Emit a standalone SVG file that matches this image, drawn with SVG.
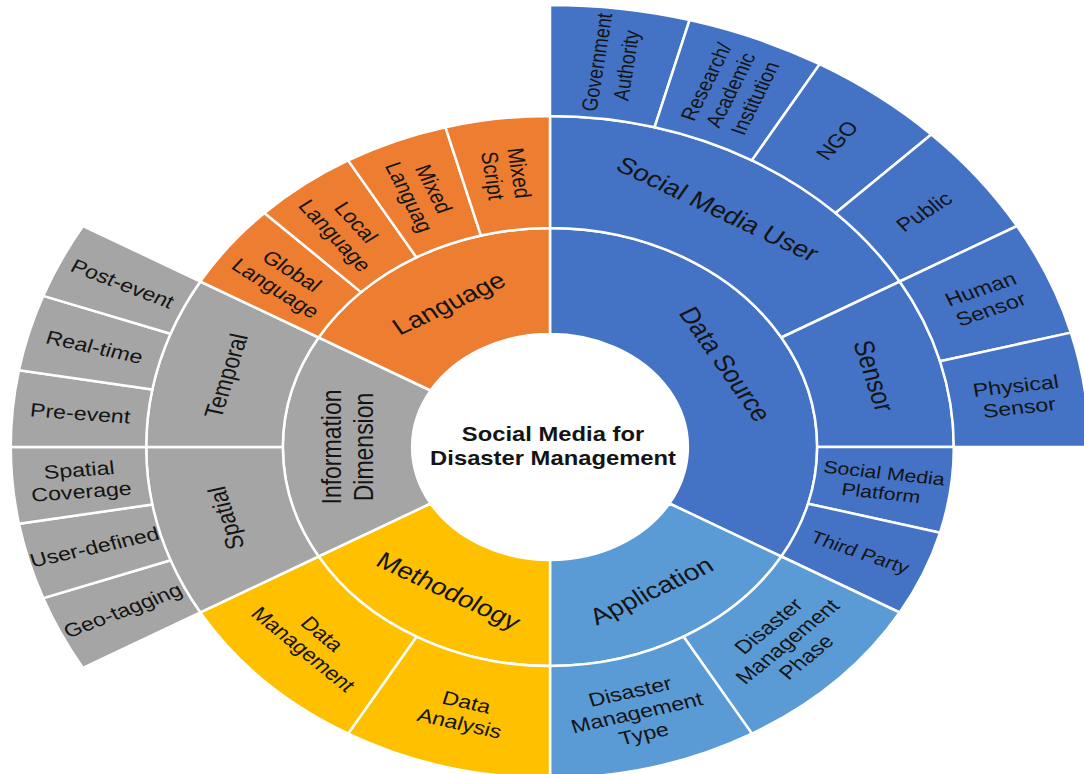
<svg xmlns="http://www.w3.org/2000/svg" width="1084" height="774" viewBox="0 0 1084 774">
  <style>
    .seg{stroke:#fff;stroke-width:2.5;vector-effect:non-scaling-stroke;stroke-linejoin:miter}
    .ds{fill:#4472C4}.ap{fill:#5B9BD5}.me{fill:#FFC000}.id{fill:#A5A5A5}.la{fill:#ED7D31}
    text{font-family:"Liberation Sans",Arial,Helvetica,sans-serif;fill:#141414;text-anchor:middle}
    .t1{font-size:23px}
    .t2{font-size:21px}
    .t3{font-size:19px}
    .t4{font-size:18px}
    .t5{font-size:17.5px}
    .title{font-size:19.5px;font-weight:bold}
  </style>
  <rect width="1084" height="774" fill="#fff"/>

  <!-- sunburst drawn in polar space; angles clockwise from 12 o'clock, chart stretched horizontally -->
  <g id="sunburst" transform="translate(550 447) scale(1.22 1)">

    <!-- ring 1: top-level categories -->
    <g id="data-source">
      <path class="seg ds" d="M0,-113 L0,-219 A219,219 0 0 1 189.66,109.5 L97.86,56.5 A113,113 0 0 0 0,-113Z"/>
      <text class="t1" transform="translate(143.76 -83) rotate(60)"><tspan x="0" dy="0.35em">Data Source</tspan></text>
    </g>
    <g id="application">
      <path class="seg ap" d="M97.86,56.5 L189.66,109.5 A219,219 0 0 1 0,219 L0,113 A113,113 0 0 0 97.86,56.5Z"/>
      <text class="t1" transform="translate(83 143.76) rotate(-30)"><tspan x="0" dy="0.35em">Application</tspan></text>
    </g>
    <g id="methodology">
      <path class="seg me" d="M0,113 L0,219 A219,219 0 0 1 -189.66,109.5 L-97.86,56.5 A113,113 0 0 0 0,113Z"/>
      <text class="t1" transform="translate(-83 143.76) rotate(30)"><tspan x="0" dy="0.35em">Methodology</tspan></text>
    </g>
    <g id="information-dimension">
      <path class="seg id" d="M-97.86,56.5 L-189.66,109.5 A219,219 0 0 1 -189.66,-109.5 L-97.86,-56.5 A113,113 0 0 0 -97.86,56.5Z"/>
      <text class="t1" transform="translate(-166 0) rotate(-90)"><tspan x="0" dy="-0.225em">Information</tspan><tspan x="0" dy="1.15em">Dimension</tspan></text>
    </g>
    <g id="language">
      <path class="seg la" d="M-97.86,-56.5 L-189.66,-109.5 A219,219 0 0 1 0,-219 L0,-113 A113,113 0 0 0 -97.86,-56.5Z"/>
      <text class="t1" transform="translate(-83 -143.76) rotate(-30)"><tspan x="0" dy="0.35em">Language</tspan></text>
    </g>

    <!-- ring 2 -->
    <g id="social-media-user">
      <path class="seg ds" d="M0,-219 L0,-331 A331,331 0 0 1 286.65,-165.5 L189.66,-109.5 A219,219 0 0 0 0,-219Z"/>
      <text class="t1" transform="translate(137.5 -238.16) rotate(30)"><tspan x="0" dy="0.35em">Social Media User</tspan></text>
    </g>
    <g id="sensor">
      <path class="seg ds" d="M189.66,-109.5 L286.65,-165.5 A331,331 0 0 1 331,0 L219,0 A219,219 0 0 0 189.66,-109.5Z"/>
      <text class="t1" transform="translate(265.63 -71.17) rotate(75)"><tspan x="0" dy="0.35em">Sensor</tspan></text>
    </g>
    <g id="social-media-platform">
      <path class="seg ds" d="M219,0 L331,0 A331,331 0 0 1 319.72,85.67 L211.54,56.68 A219,219 0 0 0 219,0Z"/>
      <text class="t5" transform="translate(272.65 35.89) rotate(7.5)"><tspan x="0" dy="-0.225em">Social Media</tspan><tspan x="0" dy="1.15em">Platform</tspan></text>
    </g>
    <g id="third-party">
      <path class="seg ds" d="M211.54,56.68 L319.72,85.67 A331,331 0 0 1 286.65,165.5 L189.66,109.5 A219,219 0 0 0 211.54,56.68Z"/>
      <text class="t5" transform="translate(254.07 105.24) rotate(22.5)"><tspan x="0" dy="0.35em">Third Party</tspan></text>
    </g>
    <g id="disaster-management-phase">
      <path class="seg ap" d="M189.66,109.5 L286.65,165.5 A331,331 0 0 1 165.5,286.65 L109.5,189.66 A219,219 0 0 0 189.66,109.5Z"/>
      <text class="t3" transform="translate(194.45 194.45) rotate(-45)"><tspan x="0" dy="-0.8em">Disaster</tspan><tspan x="0" dy="1.15em">Management</tspan><tspan x="0" dy="1.15em">Phase</tspan></text>
    </g>
    <g id="disaster-management-type">
      <path class="seg ap" d="M109.5,189.66 L165.5,286.65 A331,331 0 0 1 0,331 L0,219 A219,219 0 0 0 109.5,189.66Z"/>
      <text class="t3" transform="translate(71.18 265.63) rotate(-15)"><tspan x="0" dy="-0.8em">Disaster</tspan><tspan x="0" dy="1.15em">Management</tspan><tspan x="0" dy="1.15em">Type</tspan></text>
    </g>
    <g id="data-analysis">
      <path class="seg me" d="M0,219 L0,331 A331,331 0 0 1 -165.5,286.65 L-109.5,189.66 A219,219 0 0 0 0,219Z"/>
      <text class="t3" transform="translate(-71.18 265.63) rotate(15)"><tspan x="0" dy="-0.225em">Data</tspan><tspan x="0" dy="1.15em">Analysis</tspan></text>
    </g>
    <g id="data-management">
      <path class="seg me" d="M-109.5,189.66 L-165.5,286.65 A331,331 0 0 1 -286.65,165.5 L-189.66,109.5 A219,219 0 0 0 -109.5,189.66Z"/>
      <text class="t3" transform="translate(-194.45 194.45) rotate(45)"><tspan x="0" dy="-0.225em">Data</tspan><tspan x="0" dy="1.15em">Management</tspan></text>
    </g>
    <g id="spatial">
      <path class="seg id" d="M-189.66,109.5 L-286.65,165.5 A331,331 0 0 1 -331,0 L-219,0 A219,219 0 0 0 -189.66,109.5Z"/>
      <text class="t2" transform="translate(-265.63 71.18) rotate(-105)"><tspan x="0" dy="0.35em">Spatial</tspan></text>
    </g>
    <g id="temporal">
      <path class="seg id" d="M-219,0 L-331,0 A331,331 0 0 1 -286.65,-165.5 L-189.66,-109.5 A219,219 0 0 0 -219,0Z"/>
      <text class="t2" transform="translate(-265.63 -71.18) rotate(-75)"><tspan x="0" dy="0.35em">Temporal</tspan></text>
    </g>
    <g id="global-language">
      <path class="seg la" d="M-189.66,-109.5 L-286.65,-165.5 A331,331 0 0 1 -234.05,-234.05 L-154.86,-154.86 A219,219 0 0 0 -189.66,-109.5Z"/>
      <text class="t3" transform="translate(-218.17 -167.41) rotate(37.5)"><tspan x="0" dy="-0.225em">Global</tspan><tspan x="0" dy="1.15em">Language</tspan></text>
    </g>
    <g id="local-language">
      <path class="seg la" d="M-154.86,-154.86 L-234.05,-234.05 A331,331 0 0 1 -165.5,-286.65 L-109.5,-189.66 A219,219 0 0 0 -154.86,-154.86Z"/>
      <text class="t3" transform="translate(-167.41 -218.17) rotate(52.5)"><tspan x="0" dy="-0.225em">Local</tspan><tspan x="0" dy="1.15em">Language</tspan></text>
    </g>
    <g id="mixed-language">
      <path class="seg la" d="M-109.5,-189.66 L-165.5,-286.65 A331,331 0 0 1 -85.67,-319.72 L-56.68,-211.54 A219,219 0 0 0 -109.5,-189.66Z"/>
      <text class="t3" transform="translate(-105.24 -254.07) rotate(67.5)"><tspan x="0" dy="-0.225em">Mixed</tspan><tspan x="0" dy="1.15em">Languag</tspan></text>
    </g>
    <g id="mixed-script">
      <path class="seg la" d="M-56.68,-211.54 L-85.67,-319.72 A331,331 0 0 1 0,-331 L0,-219 A219,219 0 0 0 -56.68,-211.54Z"/>
      <text class="t3" transform="translate(-35.89 -272.65) rotate(82.5)"><tspan x="0" dy="-0.225em">Mixed</tspan><tspan x="0" dy="1.15em">Script</tspan></text>
    </g>

    <!-- ring 3 -->
    <g id="government-authority">
      <path class="seg ds" d="M0,-331 L0,-442 A442,442 0 0 1 114.40,-426.94 L85.67,-319.72 A331,331 0 0 0 0,-331Z"/>
      <text class="t4" transform="translate(50.45 -383.19) rotate(-82.5)"><tspan x="0" dy="-0.325em">Government</tspan><tspan x="0" dy="1.35em">Authority</tspan></text>
    </g>
    <g id="research-academic-institution">
      <path class="seg ds" d="M85.67,-319.72 L114.40,-426.94 A442,442 0 0 1 221,-382.78 L165.5,-286.65 A331,331 0 0 0 85.67,-319.72Z"/>
      <text class="t4" transform="translate(147.91 -357.08) rotate(-67.5)"><tspan x="0" dy="-0.85em">Research/</tspan><tspan x="0" dy="1.2em">Academic</tspan><tspan x="0" dy="1.2em">Institution</tspan></text>
    </g>
    <g id="ngo">
      <path class="seg ds" d="M165.5,-286.65 L221,-382.78 A442,442 0 0 1 312.54,-312.54 L234.05,-234.05 A331,331 0 0 0 165.5,-286.65Z"/>
      <text class="t3" transform="translate(235.29 -306.63) rotate(-52.5)"><tspan x="0" dy="0.35em">NGO</tspan></text>
    </g>
    <g id="public">
      <path class="seg ds" d="M234.05,-234.05 L312.54,-312.54 A442,442 0 0 1 382.78,-221 L286.65,-165.5 A331,331 0 0 0 234.05,-234.05Z"/>
      <text class="t3" transform="translate(306.63 -235.29) rotate(-37.5)"><tspan x="0" dy="0.35em">Public</tspan></text>
    </g>
    <g id="human-sensor">
      <path class="seg ds" d="M286.65,-165.5 L382.78,-221 A442,442 0 0 1 426.94,-114.40 L319.72,-85.67 A331,331 0 0 0 286.65,-165.5Z"/>
      <text class="t3" transform="translate(357.08 -147.91) rotate(-22.5)"><tspan x="0" dy="-0.225em">Human</tspan><tspan x="0" dy="1.15em">Sensor</tspan></text>
    </g>
    <g id="physical-sensor">
      <path class="seg ds" d="M319.72,-85.67 L426.94,-114.40 A442,442 0 0 1 442,0 L331,0 A331,331 0 0 0 319.72,-85.67Z"/>
      <text class="t3" transform="translate(383.19 -50.45) rotate(-7.5)"><tspan x="0" dy="-0.225em">Physical</tspan><tspan x="0" dy="1.15em">Sensor</tspan></text>
    </g>
    <g id="geo-tagging">
      <path class="seg id" d="M-286.65,165.5 L-382.78,221 A442,442 0 0 1 -415.34,151.17 L-311.04,113.21 A331,331 0 0 0 -286.65,165.5Z"/>
      <text class="t3" transform="translate(-350.29 163.34) rotate(-25)"><tspan x="0" dy="0.35em">Geo-tagging</tspan></text>
    </g>
    <g id="user-defined">
      <path class="seg id" d="M-311.04,113.21 L-415.34,151.17 A442,442 0 0 1 -435.29,76.75 L-325.97,57.48 A331,331 0 0 0 -311.04,113.21Z"/>
      <text class="t3" transform="translate(-373.32 100.03) rotate(-15)"><tspan x="0" dy="0.35em">User-defined</tspan></text>
    </g>
    <g id="spatial-coverage">
      <path class="seg id" d="M-325.97,57.48 L-435.29,76.75 A442,442 0 0 1 -442,0 L-331,0 A331,331 0 0 0 -325.97,57.48Z"/>
      <text class="t3" transform="translate(-385.03 33.69) rotate(-5)"><tspan x="0" dy="-0.225em">Spatial</tspan><tspan x="0" dy="1.15em">Coverage</tspan></text>
    </g>
    <g id="pre-event">
      <path class="seg id" d="M-331,0 L-442,0 A442,442 0 0 1 -435.29,-76.75 L-325.97,-57.48 A331,331 0 0 0 -331,0Z"/>
      <text class="t3" transform="translate(-385.03 -33.69) rotate(5)"><tspan x="0" dy="0.35em">Pre-event</tspan></text>
    </g>
    <g id="real-time">
      <path class="seg id" d="M-325.97,-57.48 L-435.29,-76.75 A442,442 0 0 1 -415.34,-151.17 L-311.04,-113.21 A331,331 0 0 0 -325.97,-57.48Z"/>
      <text class="t3" transform="translate(-373.32 -100.03) rotate(15)"><tspan x="0" dy="0.35em">Real-time</tspan></text>
    </g>
    <g id="post-event">
      <path class="seg id" d="M-311.04,-113.21 L-415.34,-151.17 A442,442 0 0 1 -382.78,-221 L-286.65,-165.5 A331,331 0 0 0 -311.04,-113.21Z"/>
      <text class="t3" transform="translate(-350.29 -163.34) rotate(25)"><tspan x="0" dy="0.35em">Post-event</tspan></text>
    </g>

    <!-- hub -->
    <g id="root">
      <text class="title" transform="translate(2.5 -2)"><tspan x="0" dy="-0.225em">Social Media for</tspan><tspan x="0" dy="1.25em">Disaster Management</tspan></text>
    </g>
  </g>
</svg>
